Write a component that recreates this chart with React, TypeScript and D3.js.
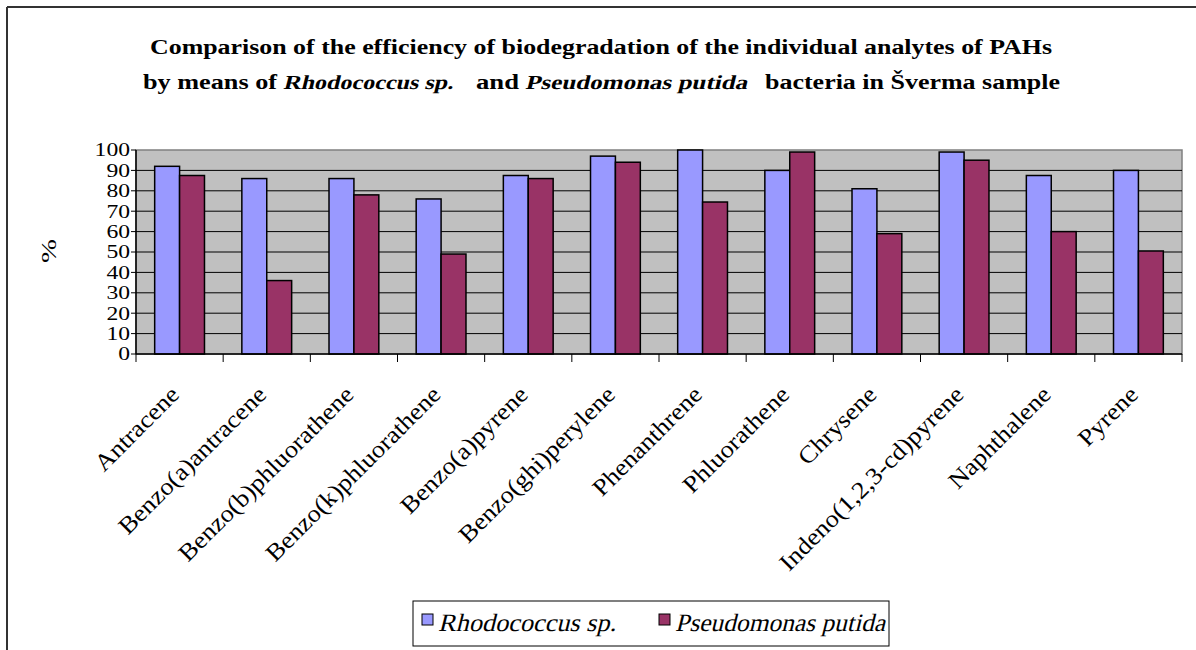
import React from "react";
import * as d3 from "d3";

const categories = [
  "Antracene",
  "Benzo(a)antracene",
  "Benzo(b)phluorathene",
  "Benzo(k)phluorathene",
  "Benzo(a)pyrene",
  "Benzo(ghi)perylene",
  "Phenanthrene",
  "Phluorathene",
  "Chrysene",
  "Indeno(1,2,3-cd)pyrene",
  "Naphthalene",
  "Pyrene",
];
const seriesNames = ["Rhodococcus sp.", "Pseudomonas putida"];
const rhodococcus = [92, 86, 86, 76, 87.5, 97, 100, 90, 81, 99, 87.5, 90];
const pseudomonas = [87.5, 36, 78, 49, 86, 94, 74.5, 99, 59, 95, 60, 50.5];
const yTicks = [0, 10, 20, 30, 40, 50, 60, 70, 80, 90, 100];
const colors = ["#9999FF", "#993366"];
const titleLine1 = "Comparison of the efficiency of biodegradation of the individual analytes of PAHs";
// [text, italic, left x, width]
const titleLine2: [string, boolean, number, number][] = [
  ["by means of", false, 143, 134],
  ["Rhodococcus sp.", true, 283, 170],
  ["and", false, 476, 43],
  ["Pseudomonas putida", true, 525, 222],
  ["bacteria in Šverma sample", false, 765, 295],
];

const W = 1196;
const H = 650;
const plot = { left: 136, right: 1182, top: 150, bottom: 354 };
const FONT = "'Liberation Serif', 'Times New Roman', serif";
const SKEW = -14;

function SegText(props: {
  x: number;
  y: number;
  size: number;
  bold?: boolean;
  italic?: boolean;
  width: number;
  children: string;
}) {
  const { x, y, size, bold, italic, width, children } = props;
  return (
    <text
      transform={`translate(${x},${y})${italic ? ` skewX(${SKEW})` : ""}`}
      fontSize={size}
      fontWeight={bold ? "bold" : "normal"}
      textLength={width}
      lengthAdjust="spacingAndGlyphs"
    >
      {children}
    </text>
  );
}

export default function App() {
  const x = d3
    .scaleBand<string>()
    .domain(categories)
    .range([plot.left, plot.right])
    .padding(0);
  const inner = d3
    .scaleBand<string>()
    .domain(seriesNames)
    .range([0, x.bandwidth()])
    .paddingInner(0)
    .paddingOuter(0.75);
  const y = d3.scaleLinear().domain([0, 100]).range([plot.bottom, plot.top]);
  const series = [rhodococcus, pseudomonas];

  const boundaries = categories.map((c) => x(c)!).concat([plot.right]);
  const tSize = 20;

  return (
    <svg
      width={W}
      height={H}
      style={{ position: "absolute", left: 0, top: 0, background: "#fff" }}
      fontFamily={FONT}
    >
      {/* outer frame (left and top visible) */}
      <line x1={7} y1={7} x2={W} y2={7} stroke="#333" strokeWidth={2} />
      <line x1={7} y1={7} x2={7} y2={H} stroke="#333" strokeWidth={2} />

      {/* title */}
      <text
        x={601}
        y={54}
        textAnchor="middle"
        fontSize={tSize}
        fontWeight="bold"
        textLength={902}
        lengthAdjust="spacingAndGlyphs"
      >
        {titleLine1}
      </text>
      {titleLine2.map(([txt, it, sx, w], i) => (
        <SegText key={i} x={sx} y={89} size={tSize} bold italic={it} width={w}>
          {txt}
        </SegText>
      ))}

      {/* plot area */}
      <rect
        x={plot.left}
        y={plot.top}
        width={plot.right - plot.left}
        height={plot.bottom - plot.top}
        fill="#C0C0C0"
        stroke="#808080"
        strokeWidth={1.5}
      />
      {yTicks
        .filter((t) => t > 0 && t < 100)
        .map((t) => (
          <line
            key={"g" + t}
            x1={plot.left}
            x2={plot.right}
            y1={y(t)}
            y2={y(t)}
            stroke="#000"
            strokeWidth={1}
          />
        ))}

      {/* bars */}
      {categories.map((c, i) => (
        <g key={c}>
          {series.map((s, j) => (
            <rect
              key={j}
              x={x(c)! + inner(seriesNames[j])!}
              y={y(s[i])}
              width={inner.bandwidth()}
              height={y(0) - y(s[i])}
              fill={colors[j]}
              stroke="#000"
              strokeWidth={1.5}
            />
          ))}
        </g>
      ))}

      {/* axes */}
      <line x1={plot.left} x2={plot.left} y1={plot.top} y2={plot.bottom} stroke="#000" strokeWidth={1.5} />
      <line x1={plot.left} x2={plot.right} y1={plot.bottom} y2={plot.bottom} stroke="#000" strokeWidth={1.5} />
      {yTicks.map((t) => (
        <g key={"yt" + t}>
          <line x1={plot.left - 5} x2={plot.left} y1={y(t)} y2={y(t)} stroke="#000" strokeWidth={1} />
          <text
            x={130}
            y={y(t)}
            dy="0.35em"
            textAnchor="end"
            fontSize={18}
            textLength={String(t).length * 11.8}
            lengthAdjust="spacingAndGlyphs"
          >
            {t}
          </text>
        </g>
      ))}
      {boundaries.map((b, i) => (
        <line key={"xt" + i} x1={b} x2={b} y1={plot.bottom} y2={plot.bottom + 8} stroke="#000" strokeWidth={1} />
      ))}
      {categories.map((c) => {
        const cx = x(c)! + x.bandwidth() / 2 + 1;
        const cy = 396;
        return (
          <text
            key={"xl" + c}
            transform={`translate(${cx},${cy}) rotate(-45) scale(1.1,1)`}
            textAnchor="end"
            fontSize={24}
          >
            {c}
          </text>
        );
      })}

      {/* y label */}
      <text
        transform="translate(56,251) rotate(-90)"
        textAnchor="middle"
        fontSize={22}
        textLength={24}
        lengthAdjust="spacingAndGlyphs"
      >
        %
      </text>

      {/* legend */}
      <rect x={413} y={601} width={476} height={45} fill="#fff" stroke="#000" strokeWidth={1} />
      {seriesNames.map((n, j) => {
        const sx = j === 0 ? 422 : 659;
        const tw = j === 0 ? 178 : 210;
        return (
          <g key={n}>
            <rect x={sx} y={614} width={11} height={11} fill={colors[j]} stroke="#000" strokeWidth={1} />
            <SegText x={sx + 16} y={631} size={25} italic width={tw}>
              {n}
            </SegText>
          </g>
        );
      })}
    </svg>
  );
}
